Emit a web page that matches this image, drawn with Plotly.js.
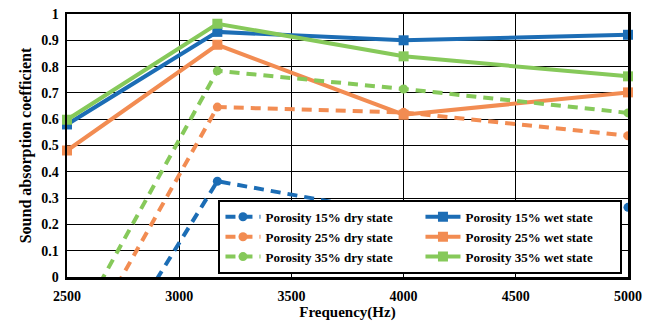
<!DOCTYPE html>
<html>
<head>
<meta charset="utf-8">
<script src="https://cdn.plot.ly/plotly-3.0.1.min.js"></script>
<style>
html,body{margin:0;padding:0;background:#fff;}
#chart{width:656px;height:322px;}
</style>
</head>
<body>
<div id="chart"></div>
<script>
// Data
const frequency = [2500, 3170, 4000, 5000];
const dry15 = [-0.56, 0.364, 0.237, 0.265];
const dry25 = [-0.37, 0.646, 0.626, 0.537];
const dry35 = [-0.25, 0.784, 0.715, 0.624];
const wet15 = [0.58, 0.932, 0.90, 0.921];
const wet25 = [0.481, 0.883, 0.617, 0.702];
const wet35 = [0.598, 0.963, 0.839, 0.763];
const seriesNames = [
  'Porosity 15% dry state', 'Porosity 15% wet state',
  'Porosity 25% dry state', 'Porosity 25% wet state',
  'Porosity 35% dry state', 'Porosity 35% wet state'
];
const xTickVals = [2500, 3000, 3500, 4000, 4500, 5000];

const BLUE = '#1C6DB5', ORANGE = '#F28C52', GREEN = '#86C95A';

function dryTrace(name, y, color) {
  return {x: frequency, y: y, name: name, type: 'scatter', mode: 'lines+markers',
    line: {color: color, width: 4, dash: '10px,7px'},
    marker: {symbol: 'circle', size: 9, color: color}, cliponaxis: true};
}
function wetTrace(name, y, color) {
  return {x: frequency, y: y, name: name, type: 'scatter', mode: 'lines+markers',
    line: {color: color, width: 4},
    marker: {symbol: 'square', size: 10, color: color}, cliponaxis: false};
}

const traces = [
  dryTrace(seriesNames[0], dry15, BLUE),
  wetTrace(seriesNames[1], wet15, BLUE),
  dryTrace(seriesNames[2], dry25, ORANGE),
  wetTrace(seriesNames[3], wet25, ORANGE),
  dryTrace(seriesNames[4], dry35, GREEN),
  wetTrace(seriesNames[5], wet35, GREEN)
];

const FONT = 'Liberation Serif, Times New Roman, serif';
const layout = {
  width: 656, height: 322,
  margin: {l: 67, r: 28, t: 14, b: 45},
  paper_bgcolor: '#fff', plot_bgcolor: '#fff',
  font: {family: FONT, size: 14, color: '#000', weight: 'bold'},
  showlegend: true,
  legend: {
    orientation: 'h', x: 0.27, xanchor: 'left', y: 0.012, yanchor: 'bottom',
    entrywidth: 150, traceorder: 'normal',
    bgcolor: '#fff', bordercolor: '#000', borderwidth: 2,
    font: {family: FONT, size: 13, color: '#000', weight: 'bold'},
    itemwidth: 35
  },
  xaxis: {
    range: [2500, 5000], tickvals: xTickVals, ticks: '', showline: true, mirror: true,
    linecolor: '#000', linewidth: 2.5, showgrid: true, gridcolor: '#000', gridwidth: 1,
    zeroline: false, ticklabelstandoff: 5, tickfont: {family: FONT, size: 14, weight: 'bold'},
    title: {text: 'Frequency(Hz)', standoff: 1, font: {family: FONT, size: 15, weight: 'bold'}}
  },
  yaxis: {
    range: [0, 1], dtick: 0.1, ticks: '', showline: true, mirror: true,
    linecolor: '#000', linewidth: 2.5, showgrid: true, gridcolor: '#000', gridwidth: 1,
    zeroline: false, ticklabelstandoff: 3, tickfont: {family: FONT, size: 14, weight: 'bold'},
    title: {text: 'Sound absorption coefficient', standoff: 6, font: {family: FONT, size: 16, weight: 'bold'}}
  }
};

Plotly.newPlot('chart', traces, layout, {displayModeBar: false, staticPlot: true});
</script>
</body>
</html>
